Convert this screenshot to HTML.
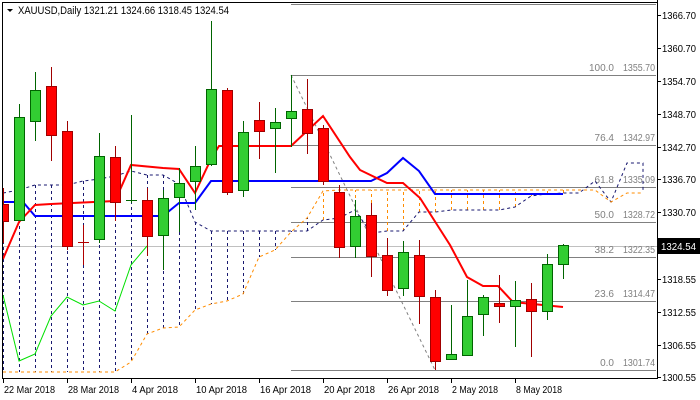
<!DOCTYPE html>
<html><head><meta charset="utf-8"><style>
body{margin:0;background:#fff;width:700px;height:400px;overflow:hidden}
svg{display:block;font-family:"Liberation Sans",sans-serif;font-size:10px}
</style></head><body>
<svg id="s" width="700" height="400" xmlns="http://www.w3.org/2000/svg">
<rect x="0" y="0" width="700" height="400" fill="#fff"/>
<g id="g"></g>
<line x1="657.5" y1="0" x2="657.5" y2="379" stroke="#000"/>
<line x1="2.5" y1="2" x2="2.5" y2="379" stroke="#000"/>
<line x1="2" y1="2.5" x2="658" y2="2.5" stroke="#000"/>
<line x1="2" y1="378.5" x2="658" y2="378.5" stroke="#000"/>
<text x="18" y="14" fill="#000" font-size="11" textLength="211" lengthAdjust="spacingAndGlyphs">XAUUSD,Daily  1321.21 1324.66 1318.45 1324.54</text>
<polygon points="7,9 13,9 10,12" fill="#000"/>
</svg>
<script>
const g=document.getElementById('g');let h='';
function L(x1,y1,x2,y2,c,w,d){h+=`<line x1="${x1}" y1="${y1}" x2="${x2}" y2="${y2}" stroke="${c}" stroke-width="${w||1}"${d?` stroke-dasharray="${d}"`:''}/>`}
function P(pts,c,w,d){h+=`<polyline points="${pts.map(p=>p.join(',')).join(' ')}" fill="none" stroke="${c}" stroke-width="${w||1}"${d?` stroke-dasharray="${d}"`:''}/>`}
function T(x,y,t,c,a,tl){h+=`<text x="${x}" y="${y}" fill="${c||'#000'}"${a?` text-anchor="${a}"`:''}${tl?` textLength="${tl}" lengthAdjust="spacingAndGlyphs"`:''}>${t}</text>`}
L(2,246.5,657,246.5,'#c0c0c0');
const fib=[[75,'100.0','1355.70'],[145,'76.4','1342.97'],[187,'61.8','1335.09'],[222,'50.0','1328.72'],[257,'38.2','1322.35'],[301,'23.6','1314.47'],[370,'0.0','1301.74']];
L(291,4.5,656,4.5,'#808080');
fib.forEach(f=>{L(291,f[0]+.5,656,f[0]+.5,'#808080');T(614,f[0]-4,f[1],'#808080','end');T(655,f[0]-4,f[2],'#808080','end',32);});
L(291.5,75,291.5,146,'#808080');
L(291,75,435,370,'#808080',1,'3,3');
const xs=[];for(let i=0;i<36;i++)xs.push(3+16*i);
const A=[193,190,185,185,185,181,179,176,171,175,175,184,222,231,231,231,231,231,231,231,220,218,210,233,231,231,212,212,210,210,210,210,207,196,194,193];
const B=[372,372,372,372,372,372,372,372,362,334,328,327,310,304,301,294,257,250,232,218,191,190,190,190,190,190,190,190,190,190,190,190,190,190,190,190];
xs.forEach((x,i)=>{L(x+.5,A[i],x+.5,B[i],i>=20?'#ff8c00':'#191970',1,'3,3')});
P(xs.map((x,i)=>[x,A[i]]).concat([[579,193],[595,181],[611,202],[627,163],[643,163],[643,192]]),'#191970',1,'3,3');
P(xs.map((x,i)=>[x,B[i]]).concat([[579,190],[595,190],[611,202],[627,193],[643,193]]),'#ff8c00',1,'3,3');
P([[3,295],[19,361],[35,354],[51,316],[67,297],[83,305],[99,301],[115,311],[131,265],[147,246]],'#00e000',1);
P([[3,202],[23,202],[35,216],[163,216],[179,203],[195,203],[211,181],[371,181],[387,173],[403,158],[419,171],[435,194],[563,194]],'#0000ff',2);
P([[3,259],[19,222],[35,205],[51,204],[115,201],[131,165],[163,168],[179,169],[195,193],[211,159],[219,146],[291,146],[323,116],[350,157],[360,170],[387,183],[403,183],[420,198],[450,245],[467,277],[483,286],[498,286],[513,302],[563,307]],'#ff0000',2);
const C=[[3,'r',204,221,188,243],[19,'g',117,220,104,221],[35,'g',90,121,72,141],[51,'r',86,135,67,161],[67,'r',131,246,121,250],[83,'d',242,242,225,265],[99,'g',156,239,133,243],[115,'r',157,202,146,221],[131,'dg',200,200,115,203],[147,'r',200,236,188,256],[163,'g',198,235,190,270],[179,'g',183,197,168,232],[195,'g',166,181,146,210],[211,'g',89,164,21,166],[227,'r',90,192,88,195],[243,'g',132,190,121,197],[259,'r',120,131,102,159],[275,'g',122,128,108,173],[291,'g',111,118,75,147],[307,'r',109,133,79,154],[323,'r',128,181,125,185],[339,'r',192,247,185,258],[355,'g',216,246,200,258],[371,'r',215,256,203,277],[387,'r',255,290,238,296],[403,'g',252,288,241,296],[419,'r',255,296,240,324],[435,'r',297,361,290,370],[451,'g',354,359,305,360],[467,'g',316,355,280,356],[483,'g',297,314,295,336],[499,'r',303,306,275,323],[515,'g',300,306,281,347],[531,'r',299,311,283,357],[547,'g',264,311,254,320],[563,'g',245,264,244,279]];
C.forEach(c=>{let [x,t,bt,bb,wt,wb]=c;let up=t[0]=='g'||t=='dg';let wc=t=='d'?'#b00000':(up?'#006400':'#a00000');
L(x+.5,wt,x+.5,wb,wc);
if(t=='d'||t=='dg'){L(x-5,bt+.5,x+6,bt+.5,wc);return;}
let x0=x<8?2.5:x-4.5;h+=`<rect x="${x0}" y="${bt+.5}" width="${x<8?6:10}" height="${Math.max(bb-bt,2)}" fill="${up?'#32cd32':'#ff0000'}" stroke="${wc}"/>`;});
[[15,'1366.70'],[48,'1360.70'],[81,'1354.70'],[114,'1348.70'],[147,'1342.70'],[179,'1336.70'],[212,'1330.70'],[279,'1318.55'],[312,'1312.55'],[345,'1306.55'],[377,'1300.55']].forEach(a=>{L(657,a[0]+.5,661,a[0]+.5,'#000');T(662,a[0]+4,a[1],'#000','',34);});
h+='<rect x="658" y="238" width="42" height="16" fill="#000"/>';T(661,250,'1324.54','#fff','',35);
[[3,'22 Mar 2018'],[67,'28 Mar 2018'],[131,'4 Apr 2018'],[195,'10 Apr 2018'],[259,'16 Apr 2018'],[323,'20 Apr 2018'],[387,'26 Apr 2018'],[451,'2 May 2018'],[515,'8 May 2018']].forEach(a=>{L(a[0]+.5,379,a[0]+.5,383,'#000');T(a[0]+1,393,a[1],'#000','',a[1].length==11?51:46);});
g.innerHTML=h;
</script>
</body></html>
